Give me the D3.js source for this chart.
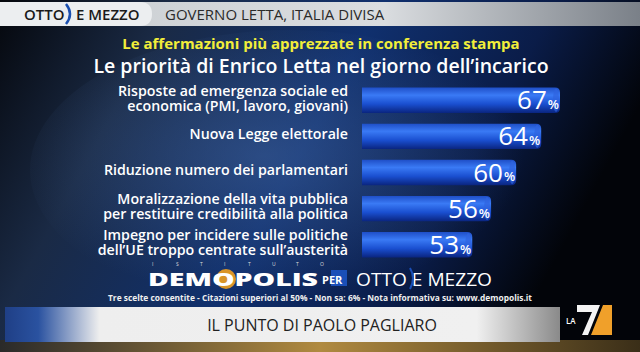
<!DOCTYPE html>
<html>
<head>
<meta charset="utf-8">
<script src="https://cdn.jsdelivr.net/npm/d3@7"></script>
<style>
  html, body { margin: 0; padding: 0; background: #000; }
  svg { display: block; }
</style>
</head>
<body>
<script>
// data
const labels = [
  ["Risposte ad emergenza sociale ed", "economica (PMI, lavoro, giovani)"],
  ["Nuova Legge elettorale"],
  ["Riduzione numero dei parlamentari"],
  ["Moralizzazione della vita pubblica", "per restituire credibilità alla politica"],
  ["Impegno per incidere sulle politiche", "dell\u2019UE troppo centrate sull\u2019austerità"]
];
const values = [67, 64, 60, 56, 53];
const headerTitle = "GOVERNO LETTA, ITALIA DIVISA";
const subTitle = "Le affermazioni più apprezzate in conferenza stampa";
const mainTitle = "Le priorità di Enrico Letta nel giorno dell\u2019incarico";
const footnote = "Tre scelte consentite - Citazioni superiori al 50% - Non sa: 6% - Nota informativa su: www.demopolis.it";
const bottomText = "IL PUNTO DI  PAOLO PAGLIARO";

const W = 640, H = 352;
const font = "'Open Sans', 'DejaVu Sans', sans-serif";

const svg = d3.select("body").append("svg")
    .attr("width", W)
    .attr("height", H);

const defs = svg.append("defs");

// background gradient: dark left, blue centre, black right
const bg = defs.append("linearGradient").attr("id", "bg")
    .attr("x1", 0).attr("y1", 0).attr("x2", 1).attr("y2", 0.3);
bg.append("stop").attr("offset", 0).attr("stop-color", "#05070c");
bg.append("stop").attr("offset", 0.25).attr("stop-color", "#1a2a45");
bg.append("stop").attr("offset", 0.55).attr("stop-color", "#10306e");
bg.append("stop").attr("offset", 0.8).attr("stop-color", "#0a1c48");
bg.append("stop").attr("offset", 1).attr("stop-color", "#020409");

const glow = defs.append("radialGradient").attr("id", "glow")
    .attr("cx", 0.45).attr("cy", 0.45).attr("r", 0.5);
glow.append("stop").attr("offset", 0).attr("stop-color", "#4a6ea8").attr("stop-opacity", 0.45);
glow.append("stop").attr("offset", 1).attr("stop-color", "#4a6ea8").attr("stop-opacity", 0);

const topBand = defs.append("linearGradient").attr("id", "topBand")
    .attr("x1", 0).attr("y1", 0).attr("x2", 1).attr("y2", 0);
topBand.append("stop").attr("offset", 0).attr("stop-color", "#c8ccd0");
topBand.append("stop").attr("offset", 0.6).attr("stop-color", "#dadde0");
topBand.append("stop").attr("offset", 1).attr("stop-color", "#7a8088");

const barGrad = defs.append("linearGradient").attr("id", "barGrad")
    .attr("x1", 0).attr("y1", 0).attr("x2", 0).attr("y2", 1);
barGrad.append("stop").attr("offset", 0).attr("stop-color", "#1f4fc8");
barGrad.append("stop").attr("offset", 0.3).attr("stop-color", "#3a7af5");
barGrad.append("stop").attr("offset", 0.65).attr("stop-color", "#1a4fd0");
barGrad.append("stop").attr("offset", 1).attr("stop-color", "#0a2580");

const bottomBand = defs.append("linearGradient").attr("id", "bottomBand")
    .attr("x1", 0).attr("y1", 0).attr("x2", 1).attr("y2", 0);
bottomBand.append("stop").attr("offset", 0).attr("stop-color", "#1f3f86");
bottomBand.append("stop").attr("offset", 0.06).attr("stop-color", "#2a52a0");
bottomBand.append("stop").attr("offset", 0.17).attr("stop-color", "#eeeeee");
bottomBand.append("stop").attr("offset", 0.85).attr("stop-color", "#f0f0f0");
bottomBand.append("stop").attr("offset", 1).attr("stop-color", "#8a8a8a");

const goldBand = defs.append("linearGradient").attr("id", "goldBand")
    .attr("x1", 0).attr("y1", 0).attr("x2", 1).attr("y2", 0);
goldBand.append("stop").attr("offset", 0).attr("stop-color", "#2a2a2a");
goldBand.append("stop").attr("offset", 0.5).attr("stop-color", "#b08a40");
goldBand.append("stop").attr("offset", 1).attr("stop-color", "#3a2e18");

// background
svg.append("rect").attr("width", W).attr("height", H).attr("fill", "url(#bg)");
svg.append("ellipse").attr("cx", 290).attr("cy", 170).attr("rx", 260).attr("ry", 140)
    .attr("fill", "url(#glow)");

// header band
svg.append("rect").attr("x", 0).attr("y", 2).attr("width", W).attr("height", 24)
    .attr("fill", "url(#topBand)");
svg.append("path")
    .attr("d", "M0,2 H140 Q152,2 152,14 Q152,26 140,26 H0 Z")
    .attr("fill", "#eceef0");
svg.append("path")
    .attr("d", "M66,4 Q74,14 66,24")
    .attr("fill", "none").attr("stroke", "#1a4fb0").attr("stroke-width", 2.5);
svg.append("text").attr("x", 24).attr("y", 20)
    .attr("font-family", font).attr("font-size", 15).attr("font-weight", 600)
    .attr("fill", "#1a1a1a").text("OTTO");
svg.append("text").attr("x", 76).attr("y", 20)
    .attr("font-family", font).attr("font-size", 15).attr("font-weight", 600)
    .attr("fill", "#1a1a1a").text("E MEZZO");
svg.append("text").attr("x", 165).attr("y", 20)
    .attr("font-family", font).attr("font-size", 15)
    .attr("fill", "#2a2a2a").text(headerTitle);

// titles
svg.append("text").attr("x", 321).attr("y", 49).attr("text-anchor", "middle")
    .attr("font-family", font).attr("font-size", 15).attr("font-weight", 700)
    .attr("fill", "#f2ee3a").text(subTitle);
svg.append("text").attr("x", 321).attr("y", 73).attr("text-anchor", "middle")
    .attr("font-family", font).attr("font-size", 19.5).attr("font-weight", 600)
    .attr("fill", "#ffffff").text(mainTitle);

// scales
const x = d3.scaleLinear().domain([35.4, 67]).range([362, 560]);
const y = d3.scaleBand().domain(d3.range(values.length)).range([84, 261]).paddingInner(0.3).paddingOuter(0.1);

const rows = svg.append("g").selectAll("g")
    .data(values)
    .join("g")
    .attr("transform", (d, i) => "translate(0," + y(i) + ")");

const bh = y.bandwidth();

rows.append("path")
    .attr("d", d => {
        const x0 = x.range()[0], x1 = x(d), r = 5;
        return "M" + x0 + ",0 H" + (x1 - r) + " Q" + x1 + ",0 " + x1 + "," + r +
            " V" + (bh - r) + " Q" + x1 + "," + bh + " " + (x1 - r) + "," + bh +
            " H" + x0 + " Z";
    })
    .attr("fill", "url(#barGrad)");

rows.append("ellipse")
    .attr("cx", d => x(d) - 4).attr("cy", bh / 2)
    .attr("rx", 3).attr("ry", bh / 2 - 1)
    .attr("fill", "#2f64e0").attr("opacity", 0.7);

const valText = rows.append("text")
    .attr("x", d => x(d) - 1).attr("y", bh / 2 + 9)
    .attr("text-anchor", "end")
    .attr("font-family", font).attr("fill", "#ffffff");
valText.append("tspan").attr("font-size", 26).attr("font-weight", 500).text(d => d);
valText.append("tspan").attr("font-size", 13).attr("font-weight", 600).attr("dx", 1).text("%");

// labels, one text per line
rows.each(function (d, i) {
    const lines = labels[i];
    const g = d3.select(this);
    const start = bh / 2 + 3 - (lines.length - 1) * 7.75;
    lines.forEach((l, j) => {
        g.append("text")
            .attr("x", 348).attr("y", start + j * 15.5)
            .attr("text-anchor", "end")
            .attr("font-family", font).attr("font-size", 14.2).attr("font-weight", 600)
            .attr("fill", "#ffffff")
            .text(l);
    });
});

// DEMOPOLIS logo line
const logo = svg.append("g");
"ISTITUTO".split("").forEach((c, i) => {
    logo.append("text").attr("x", 152 + i * 24).attr("y", 266)
        .attr("font-family", font).attr("font-size", 5).attr("fill", "#dddddd").text(c);
});
logo.append("circle").attr("cx", 226).attr("cy", 279).attr("r", 10)
    .attr("fill", "#f0a020").attr("opacity", 0.9);
logo.append("text").attr("x", 148).attr("y", 286)
    .attr("font-family", font).attr("font-size", 18).attr("font-weight", 800)
    .attr("fill", "#ffffff").attr("textLength", 170).attr("lengthAdjust", "spacingAndGlyphs")
    .text("DEMOPOLIS");
logo.append("rect").attr("x", 331).attr("y", 270).attr("width", 16).attr("height", 16)
    .attr("fill", "#1a4fb8");
logo.append("text").attr("x", 322).attr("y", 284)
    .attr("font-family", font).attr("font-size", 11).attr("font-weight", 700)
    .attr("fill", "#ffffff").text("PER");
logo.append("text").attr("x", 356).attr("y", 286)
    .attr("font-family", font).attr("font-size", 18).attr("font-weight", 400)
    .attr("fill", "#ffffff").attr("textLength", 136).attr("lengthAdjust", "spacingAndGlyphs")
    .text("OTTO E MEZZO");
logo.append("path").attr("d", "M410,268 Q416,278 410,289")
    .attr("fill", "none").attr("stroke", "#1a4fb8").attr("stroke-width", 2);

svg.append("text").attr("x", 320).attr("y", 301).attr("text-anchor", "middle")
    .attr("font-family", font).attr("font-size", 9.5).attr("font-weight", 700)
    .attr("fill", "#f0f0f0").attr("textLength", 424).attr("lengthAdjust", "spacingAndGlyphs")
    .text(footnote);

// bottom band
svg.append("rect").attr("x", 0).attr("y", 340).attr("width", W).attr("height", 12)
    .attr("fill", "url(#goldBand)");
svg.append("rect").attr("x", 5).attr("y", 307).attr("width", 555).attr("height", 35)
    .attr("fill", "url(#bottomBand)");
svg.append("text").attr("x", 322).attr("y", 331).attr("text-anchor", "middle")
    .attr("font-family", font).attr("font-size", 16)
    .attr("fill", "#222222").text(bottomText);

// LA7 logo
svg.append("path").attr("d", "M577,305 L600,305 L588,335 L582,335 L592,312 L577,312 Z")
    .attr("fill", "#f4f4f4");
svg.append("path").attr("d", "M603,305 L612,305 L612,335 L591,335 Z")
    .attr("fill", "#f0a02a");
svg.append("text").attr("x", 566).attr("y", 324)
    .attr("font-family", font).attr("font-size", 8).attr("font-weight", 600)
    .attr("fill", "#ffffff").text("LA");
</script>
</body>
</html>
